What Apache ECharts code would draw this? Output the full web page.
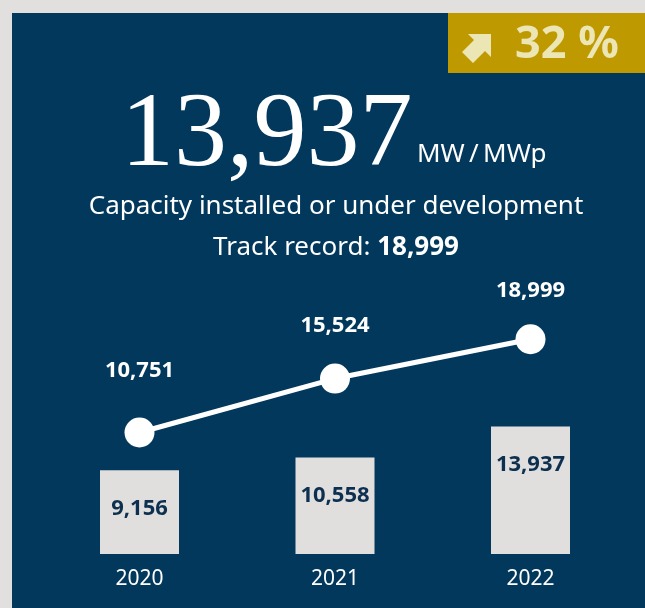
<!DOCTYPE html>
<html>
<head>
<meta charset="utf-8">
<script src="https://cdn.jsdelivr.net/npm/echarts@6/dist/echarts.min.js"></script>
<style>
  html, body { margin: 0; padding: 0; background: #e1e0df; }
  #chart { width: 645px; height: 608px; }
</style>
</head>
<body>
<div id="chart"></div>
<script>
// data
const years = ['2020', '2021', '2022']
const installed = [9156, 10558, 13937]        // bars
const trackRecord = [10751, 15524, 18999]     // line
const headline = '13,937'
const headlineUnit = 'MW\u2009/\u2009MWp'
const growth = '32 %'

// label lift above each point (visual tweak only)
const lineLabelGap = [36, 27, 23]

const navy = '#01385c'
const gold = '#bf9900'
const paleGold = '#ece5b4'
const barGrey = '#e1dfde'
const labelFont = 'Noto Sans'

const myChart = echarts.init(document.getElementById('chart'), null, { renderer: 'canvas' })

let lineData = trackRecord.map(function (v, i) {
    return {
        value: v,
        label: { distance: lineLabelGap[i] }
    }
})

let option = {
    animation: false,
    backgroundColor: '#e1e0df',
    graphic: [
        // navy panel
        { type: 'rect', z: -10, shape: { x: 12, y: 13, width: 633, height: 595 }, style: { fill: navy } },
        // gold badge
        { type: 'rect', z: -9, shape: { x: 448, y: 13, width: 197, height: 60 }, style: { fill: gold } },
        {
            type: 'polygon', z: -8,
            shape: { points: [[468, 34], [491, 34], [491, 57], [485, 51], [473, 63], [462, 52], [474, 40]] },
            style: { fill: paleGold }
        },
        {
            type: 'text', z: -8, x: 567, y: 45,
            style: {
                text: growth, fill: paleGold, font: 'bold 45px "Noto Sans"',
                textAlign: 'center', textVerticalAlign: 'middle'
            }
        },
        // big number
        {
            type: 'text', z: -8, x: 121, y: 137,
            style: {
                text: headline, fill: '#ffffff', font: '106px "Liberation Serif"',
                textAlign: 'left', textVerticalAlign: 'middle'
            }
        },
        {
            type: 'text', z: -8, x: 417, y: 155,
            style: {
                text: headlineUnit, fill: '#ffffff', font: '26px "Noto Sans"',
                textAlign: 'left', textVerticalAlign: 'middle'
            }
        },
        {
            type: 'text', z: -8, x: 336, y: 207,
            style: {
                text: 'Capacity installed or under development', fill: '#ffffff', font: '26px "Noto Sans"',
                textAlign: 'center', textVerticalAlign: 'middle'
            }
        },
        {
            type: 'text', z: -8, x: 336, y: 248,
            style: {
                text: '{r|Track record: }{b|18,999}',
                textAlign: 'center', textVerticalAlign: 'middle',
                rich: {
                    r: { fill: '#ffffff', fontSize: 26, fontFamily: 'Noto Sans' },
                    b: { fill: '#ffffff', fontSize: 26, fontWeight: 'bold', fontFamily: 'Noto Sans' }
                }
            }
        }
    ],
    grid: { left: 41.75, right: 16.75, top: 298, bottom: 54, containLabel: false },
    xAxis: {
        type: 'category',
        data: years,
        axisLine: { show: false },
        axisTick: { show: false },
        axisLabel: { color: '#ffffff', fontSize: 21, fontFamily: 'Noto Sans', margin: 15 }
    },
    yAxis: [
        { type: 'value', show: false, min: 0, max: 28000, splitLine: { show: false } },
        { type: 'value', show: false, min: 0, max: 22650, splitLine: { show: false } }
    ],
    series: [
        {
            type: 'bar',
            data: installed,
            barWidth: 79,
            itemStyle: { color: barGrey },
            label: {
                show: true,
                position: 'insideTop',
                distance: 27,
                color: '#0d3050',
                fontSize: 22,
                fontWeight: 'bold',
                fontFamily: labelFont,
                formatter: function (p) { return p.value.toLocaleString('en-US') }
            }
        },
        {
            type: 'line',
            yAxisIndex: 1,
            data: lineData,
            symbol: 'circle',
            symbolSize: 30,
            lineStyle: { color: '#ffffff', width: 5 },
            itemStyle: { color: '#ffffff' },
            label: {
                show: true,
                position: 'top',
                color: '#ffffff',
                fontSize: 22,
                fontWeight: 'bold',
                fontFamily: labelFont,
                formatter: function (p) { return p.value.toLocaleString('en-US') }
            }
        }
    ]
}
option && myChart.setOption(option);
</script>
</body>
</html>
